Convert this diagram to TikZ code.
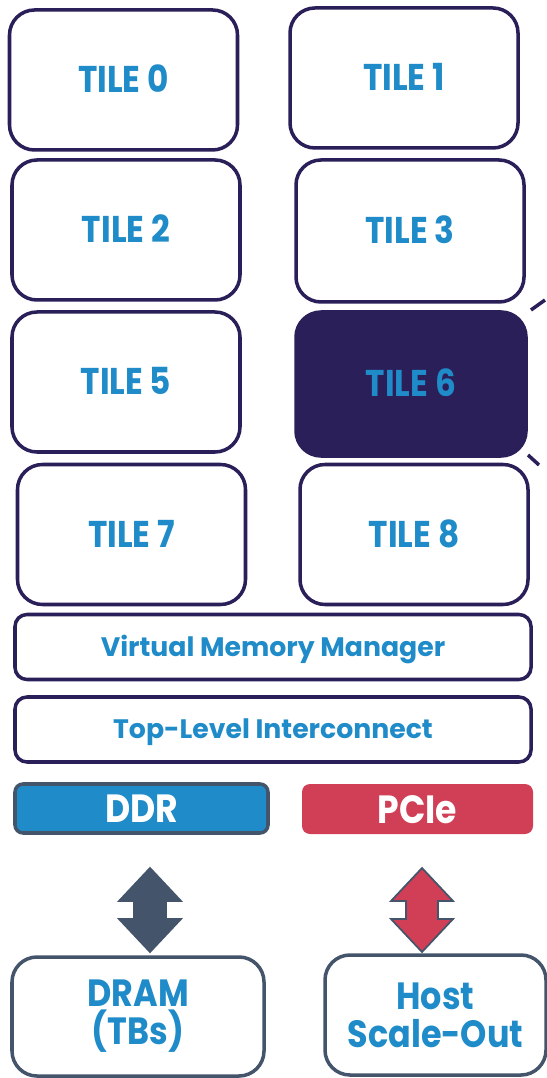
\documentclass[tikz,border=0pt]{standalone}
\usepackage{fontspec}
\setmainfont{Poppins}
\newfontfamily\narrowfont[FakeStretch=0.88]{Poppins}
\definecolor{navy}{HTML}{2A1F58}
\definecolor{tblue}{HTML}{1F8BC8}
\definecolor{slate}{HTML}{44546A}
\definecolor{pred}{HTML}{D03F55}
\tikzset{
  tile/.style={draw=navy, line width=1pt, rounded corners=0.25cm, fill=white,
    text=tblue, font=\narrowfont\bfseries\fontsize{10.6}{12}\selectfont,
    text height=2.6mm, text depth=0pt,
    minimum width=2.28cm, minimum height=1.40cm, inner sep=0pt},
  bar/.style={draw=navy, line width=1pt, rounded corners=0.12cm, text=tblue,
    font=\bfseries\fontsize{7.6}{9}\selectfont, text height=1.8mm, text depth=0pt,
    minimum width=5.16cm, minimum height=0.65cm, inner sep=0pt},
  port/.style={rounded corners=0.08cm, text=white,
    font=\narrowfont\bfseries\fontsize{11.2}{12}\selectfont,
    text height=2.8mm, text depth=0pt,
    minimum height=0.49cm, inner sep=0pt},
  ext/.style={draw=slate, line width=1pt, rounded corners=0.25cm, text=tblue,
    font=\narrowfont\bfseries\fontsize{10.8}{10.8}\selectfont, align=center,
    minimum height=1.20cm, inner sep=0pt}
}
\begin{document}
\begin{tikzpicture}
\useasboundingbox (0,0) rectangle (5.46,-10.78);
% tiles
\node[tile] (t0) at (1.235,-0.80) {TILE 0};
\node[tile] (t1) at (4.04,-0.78) {TILE 1};
\node[tile] (t2) at (1.26,-2.30) {TILE 2};
\node[tile, minimum height=1.42cm] (t3) at (4.10,-2.31) {TILE 3};
\node[tile] (t5) at (1.26,-3.82) {TILE 5};
\node[tile, fill=navy, minimum width=2.30cm, minimum height=1.44cm] (t6) at (4.11,-3.84) {TILE 6};
\node[tile] (t7) at (1.315,-5.345) {TILE 7};
\node[tile] (t8) at (4.14,-5.345) {TILE 8};
\draw[navy, line width=1pt] (5.31,-3.10)--(5.45,-3.00);
\draw[navy, line width=1pt] (5.28,-4.55)--(5.39,-4.65);
% shared blocks
\node[bar] (vmm) at (2.73,-6.47) {Virtual Memory Manager};
\node[bar] (tli) at (2.73,-7.295) {Top-Level Interconnect};
\node[port, fill=tblue, draw=slate, line width=1pt, minimum width=2.53cm] (ddr) at (1.415,-8.085) {DDR};
\node[port, fill=pred, minimum width=2.31cm, minimum height=0.50cm] (pcie) at (4.175,-8.09) {PCIe};
% off chip
\node[ext, minimum width=2.52cm, minimum height=1.19cm] (dram) at (1.38,-10.165) {DRAM\\(TBs)};
\node[ext, minimum width=2.21cm] (host) at (4.355,-10.15) {Host\\Scale-Out};
% links
\foreach \cx/\c in {1.50/slate, 4.22/pred}
  \draw[fill=\c, draw=slate, line width=0.5pt, line join=miter]
    (\cx,-8.68) -- (\cx+0.31,-9.01) -- (\cx+0.16,-9.01) -- (\cx+0.16,-9.19)
    -- (\cx+0.31,-9.19) -- (\cx,-9.52) -- (\cx-0.31,-9.19) -- (\cx-0.16,-9.19)
    -- (\cx-0.16,-9.01) -- (\cx-0.31,-9.01) -- cycle;
\end{tikzpicture}
\end{document}
